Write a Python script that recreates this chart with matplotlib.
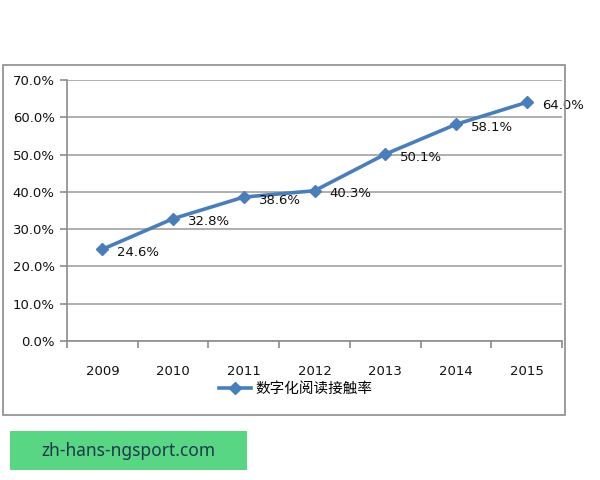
import matplotlib
matplotlib.use("Agg")
import matplotlib.pyplot as plt
from matplotlib.patches import Rectangle

years = ["2009", "2010", "2011", "2012", "2013", "2014", "2015"]
rates = [24.6, 32.8, 38.6, 40.3, 50.1, 58.1, 64.0]
y_ticks = [0, 10, 20, 30, 40, 50, 60, 70]
series_name = "数字化阅读接触率"
watermark = "zh-hans-ngsport.com"

plt.rcParams['font.family'] = ['DejaVu Sans', 'Noto Sans CJK SC']

W, H = 600, 480
fig = plt.figure(figsize=(6, 4.8), dpi=100)

def fx(px):
    return px / W

def fy(py):
    return 1 - py / H

# outer chart border
fig.patches.append(Rectangle((fx(3), fy(415)), fx(565) - fx(3), fy(65) - fy(415),
                             transform=fig.transFigure, fill=False,
                             edgecolor="#8c8c8c", linewidth=1.2))

ax = fig.add_axes([fx(67), fy(341), fx(562) - fx(67), fy(80) - fy(341)])
line_color = "#4a7ebb"
x = list(range(len(years)))
ax.plot(x, rates, color=line_color, linewidth=2.6, marker="D", markersize=6.5,
        markerfacecolor=line_color, markeredgecolor=line_color, zorder=3)
for xi, v in zip(x, rates):
    ax.annotate(f"{v:.1f}%", (xi, v), xytext=(15, -3), textcoords="offset pixels",
                ha="left", va="center", fontsize=9.5, color="#111111")

ax.set_xlim(-0.5, len(years) - 0.5)
ax.set_ylim(0, 70)
ax.set_yticks(y_ticks)
ax.set_yticklabels([f"{t:.1f}%" for t in y_ticks], fontsize=9.5, color="#111111")
ax.set_xticks(x)
ax.set_xticklabels(years, fontsize=9.5, color="#111111")
ax.set_xticks([i - 0.5 for i in range(len(years) + 1)], minor=True)
ax.tick_params(axis="x", which="major", length=0, pad=17)
ax.tick_params(axis="x", which="minor", length=5, color="#8c8c8c", width=1.2)
ax.tick_params(axis="y", length=5, color="#8c8c8c", width=1.2, pad=4)
ax.yaxis.grid(True, color="#999999", linewidth=1.1)
ax.set_axisbelow(True)
for s in ["top", "right"]:
    ax.spines[s].set_visible(False)
for s in ["left", "bottom"]:
    ax.spines[s].set_color("#8c8c8c")
    ax.spines[s].set_linewidth(1.2)

leg = fig.legend([ax.lines[0]], [series_name], loc="center",
                 bbox_to_anchor=(fx(296), fy(389)), frameon=False,
                 prop={"family": ["Noto Sans CJK SC"], "size": 10.5},
                 handlelength=2.2, handletextpad=0.3)

# watermark box
fig.patches.append(Rectangle((fx(10), fy(470)), fx(247) - fx(10), fy(431) - fy(470),
                             transform=fig.transFigure, facecolor="#58d684",
                             edgecolor="none"))
fig.text(fx(128), fy(451), watermark, ha="center", va="center", fontsize=12.5,
         color="#1d3a4c", family=["Noto Sans"])

fig.savefig("out.png", dpi=100)
